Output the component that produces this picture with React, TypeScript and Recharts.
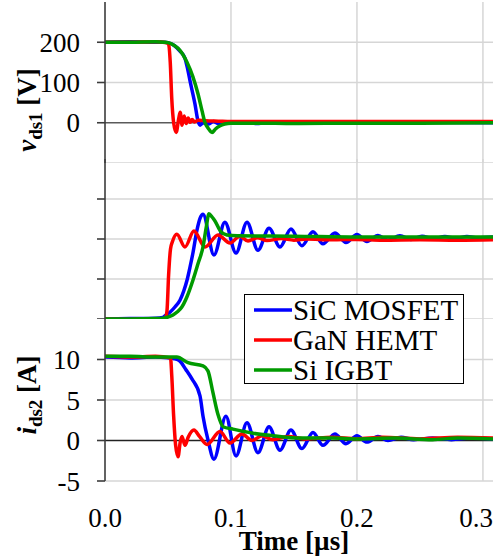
import React from 'react';
import { LineChart, Line, XAxis, YAxis, ReferenceLine, Legend } from 'recharts';

// time axis in µs
const timeTicks = [0, 0.1, 0.2, 0.3];
const vds1Ticks = [-100, 0, 100, 200];
const vds2Ticks = [0, 100, 200, 300];
const ids2Ticks = [-5, 0, 5, 10];

const seriesNames = ['SiC MOSFET', 'GaN HEMT', 'Si IGBT'];
const seriesColors = ['#0000ff', '#ff0000', '#009a00'];

// v_ds1 [V]
const sicVds1 = [
  [0, 200], [0.02, 201], [0.04, 200], [0.047, 200], [0.05, 199], [0.055, 192], [0.0595, 178], [0.0635, 160],
  [0.0655, 135], [0.0675, 104], [0.0714, 47], [0.0738, 5], [0.0755, -6], [0.078, 0],
  [0.082, -3], [0.086, 3], [0.09, -2], [0.095, 1], [0.1, -1], [0.11, 2], [0.12, -2], [0.13, 1], [0.15, 0],
  [0.18, 1], [0.2, 0], [0.25, 1], [0.308, 0],
];
const ganVds1 = [
  [0, 200], [0.02, 200], [0.04, 201], [0.049, 199], [0.0505, 195], [0.0518, 150], [0.053, 60], [0.0545, 0],
  [0.0565, -24], [0.0585, 10], [0.0597, 26], [0.0612, -6], [0.0628, 17], [0.0645, -2], [0.066, 12], [0.0676, 1],
  [0.0692, 8], [0.071, 2], [0.074, 6], [0.08, 5], [0.09, 4], [0.1, 3], [0.15, 3], [0.2, 3], [0.25, 3], [0.308, 3],
];
const igbtVds1 = [
  [0, 200], [0.02, 200], [0.04, 201], [0.047, 200], [0.05, 199], [0.055, 192], [0.0595, 180], [0.065, 151],
  [0.0698, 114], [0.0738, 72], [0.077, 30], [0.0794, 0], [0.082, -14], [0.085, -24], [0.0875, -16],
  [0.091, -8], [0.095, -3], [0.1, -1], [0.12, -1], [0.15, -2], [0.2, -1], [0.25, -1], [0.308, 0],
];

// v_ds2 [V]
const sicVds2 = [
  [0, 0], [0.02, 1], [0.04, 2], [0.046, 4], [0.0476, 8], [0.0516, 17], [0.0555, 30], [0.0595, 47], [0.0625, 70],
  [0.0651, 97], [0.0675, 130], [0.0698, 165], [0.073, 222], [0.0755, 252], [0.0778, 262], [0.0865, 160],
  [0.0952, 242], [0.104, 165], [0.1127, 242], [0.1214, 172], [0.1302, 227], [0.1389, 180], [0.1476, 225],
  [0.1563, 183], [0.1651, 218], [0.173, 188], [0.1825, 215], [0.1913, 191], [0.2, 211], [0.2079, 194],
  [0.2167, 209], [0.2246, 197], [0.2341, 208], [0.2429, 199], [0.2516, 207], [0.2603, 201], [0.2698, 206],
  [0.2786, 202], [0.2873, 206], [0.296, 203], [0.308, 205],
];
const ganVds2 = [
  [0, 0], [0.02, -1], [0.04, 0], [0.0478, 1], [0.0492, 20], [0.0505, 110], [0.052, 175], [0.0535, 193],
  [0.057, 212], [0.0635, 180], [0.0706, 220], [0.0794, 180], [0.0897, 210], [0.0992, 190], [0.107, 207],
  [0.1135, 195], [0.121, 203], [0.1286, 196], [0.14, 201], [0.15, 197], [0.16, 200], [0.18, 198], [0.2, 199],
  [0.22, 197], [0.25, 198], [0.28, 197], [0.308, 198],
];
const igbtVds2 = [
  [0, 0], [0.02, 0], [0.04, 1], [0.046, 2], [0.05, 5], [0.054, 10], [0.0575, 18], [0.061, 30], [0.065, 55],
  [0.0698, 97], [0.074, 140], [0.0778, 180], [0.0805, 232], [0.0825, 263], [0.085, 255], [0.0873, 245],
  [0.092, 218], [0.0968, 210], [0.105, 208], [0.15, 207], [0.2, 205], [0.25, 205], [0.308, 205],
];

// i_ds2 [A]
const sicIds2 = [
  [0, 10.3], [0.02, 10.2], [0.04, 10.3], [0.05, 10.2], [0.055, 10.1], [0.0595, 9.8], [0.064, 8.8], [0.069, 7.6],
  [0.0754, 5.5], [0.0778, 3.0], [0.0817, 0.1], [0.0865, -2.3], [0.096, 3.0], [0.104, -1.9], [0.1127, 2.2],
  [0.1214, -1.5], [0.1302, 1.7], [0.1389, -1.2], [0.1476, 1.3], [0.1563, -1.0], [0.1651, 1.0], [0.173, -0.6],
  [0.1825, 0.8], [0.1913, -0.4], [0.2, 0.6], [0.2079, -0.2], [0.2167, 0.5], [0.2246, 0.0], [0.235, 0.4],
  [0.245, 0.1], [0.26, 0.3], [0.275, 0.1], [0.29, 0.3], [0.308, 0.2],
];
const ganIds2 = [
  [0, 10.4], [0.02, 10.3], [0.04, 10.4], [0.052, 10.2], [0.053, 8], [0.0545, 3], [0.056, -0.5], [0.058, -2.0],
  [0.0597, -0.2], [0.0611, 0.5], [0.0635, -0.6], [0.066, 0.4], [0.0706, 1.3], [0.075, 0.5], [0.081, -0.5],
  [0.0913, 1.1], [0.0992, -0.3], [0.1087, 0.8], [0.1167, 0.0], [0.1246, 0.6], [0.133, 0.1], [0.145, 0.5],
  [0.16, 0.2], [0.18, 0.4], [0.2, 0.2], [0.22, 0.4], [0.25, 0.2], [0.28, 0.4], [0.308, 0.3],
];
const igbtIds2 = [
  [0, 10.4], [0.02, 10.4], [0.04, 10.3], [0.057, 10.3], [0.0659, 9.6], [0.0778, 9.2], [0.0817, 8.6],
  [0.0857, 5.9], [0.0897, 3.2], [0.0937, 1.7], [0.1016, 1.4], [0.1175, 0.9], [0.1333, 0.6], [0.1548, 0.3],
  [0.18, 0.3], [0.2, 0.2], [0.23, 0.3], [0.26, 0.1], [0.28, 0.3], [0.308, 0.2],
];

const W = 493;
const FONT = '"Liberation Serif", "Times New Roman", serif';
const GRID = '#d6d6d6';
const AXIS = '#3c3c3c';
const xDomain = [0, 0.308];

const toPts = (arr: number[][]) => arr.map(([t, v]) => ({ t, v }));
const blank = () => '';

// light grid, drawn as reference lines at the tick values (0 lines are drawn separately)
const gridLines = (yVals: number[]) => [
  ...timeTicks.filter((t) => t > 0).map((t) => (
    <ReferenceLine key={'gx' + t} x={t} stroke={GRID} strokeWidth={1.5} />
  )),
  ...yVals.map((v) => (
    <ReferenceLine key={'gy' + v} y={v} stroke={GRID} strokeWidth={1.5} />
  )),
];

const seriesLines = (sets: number[][][]) =>
  sets.map((s, i) => (
    <Line
      key={seriesNames[i]}
      name={seriesNames[i]}
      data={toPts(s)}
      dataKey="v"
      type="monotone"
      stroke={seriesColors[i]}
      strokeWidth={3.5}
      dot={false}
      isAnimationActive={false}
    />
  ));

const AxisTitle = ({ ax, ay, main, sub, unit }: any) => (
  <text
    transform={`translate(${ax},${ay}) rotate(-90)`}
    textAnchor="middle"
    fontFamily={FONT}
    fontWeight="bold"
    fontSize={27}
    fill="#000"
  >
    <tspan fontStyle="italic">{main}</tspan>
    <tspan fontSize={19} dy={6}>{sub}</tspan>
    <tspan dy={-6}>{' ' + unit}</tspan>
  </text>
);

const TimeTitle = ({ ax, ay }: any) => (
  <text x={ax} y={ay} textAnchor="middle" fontFamily={FONT} fontWeight="bold" fontSize={27} fill="#000">
    Time [µs]
  </text>
);

const LegendBox = () => (
  <div
    style={{
      width: 220,
      height: 90,
      boxSizing: 'border-box',
      border: '1.5px solid #000',
      background: '#fff',
      fontFamily: FONT,
      fontSize: 29,
      lineHeight: '30px',
      color: '#000',
      whiteSpace: 'nowrap',
    }}
  >
    {seriesNames.map((n, i) => (
      <div key={n} style={{ display: 'flex', alignItems: 'center', height: 30 }}>
        <svg width={48} height={30}>
          <line x1={9} x2={47} y1={15} y2={15} stroke={seriesColors[i]} strokeWidth={3.5} />
        </svg>
        <span>{n}</span>
      </div>
    ))}
  </div>
);

const tickStyle = { fontFamily: FONT, fontSize: 27, fill: '#000' };

const App: React.FC = () => {
  return (
    <div style={{ position: 'absolute', left: 0, top: 0, width: W, height: 556, background: '#fff', overflow: 'hidden' }}>
      {/* v_ds1 */}
      <div style={{ position: 'absolute', left: 0, top: 0 }}>
        <LineChart width={W} height={163} margin={{ top: 2, right: 0, bottom: 0, left: 0 }}>
          <XAxis dataKey="t" type="number" domain={xDomain} ticks={timeTicks} allowDataOverflow hide />
          <YAxis type="number" domain={[-100, 300]} ticks={vds1Ticks} width={105} allowDataOverflow
            tick={tickStyle} tickSize={8} tickMargin={17}
            axisLine={{ stroke: AXIS, strokeWidth: 1.6 }} tickLine={{ stroke: AXIS, strokeWidth: 1.6 }}
            label={<AxisTitle ax={36} ay={110} main="v" sub="ds1" unit="[V]" />} />
          {gridLines([-100, 100, 200])}
          <ReferenceLine y={0} stroke="#5a5a5a" strokeWidth={1.6} />
          {seriesLines([sicVds1, ganVds1, igbtVds1])}
        </LineChart>
      </div>

      {/* v_ds2 */}
      <div style={{ position: 'absolute', left: 0, top: 159 }}>
        <LineChart width={W} height={160} margin={{ top: 0, right: 0, bottom: 0, left: 0 }}>
          <XAxis dataKey="t" type="number" domain={xDomain} ticks={timeTicks} allowDataOverflow hide />
          <YAxis type="number" domain={[0, 400]} ticks={vds2Ticks} width={105} allowDataOverflow
            tickFormatter={blank} tickSize={8}
            axisLine={{ stroke: AXIS, strokeWidth: 1.6 }} tickLine={{ stroke: AXIS, strokeWidth: 1.6 }} />
          {gridLines(vds2Ticks)}
          {seriesLines([sicVds2, ganVds2, igbtVds2])}
        </LineChart>
      </div>

      {/* i_ds2 */}
      <div style={{ position: 'absolute', left: 0, top: 319 }}>
        <LineChart width={W} height={237} margin={{ top: 0, right: 0, bottom: 0, left: 0 }}>
          <XAxis dataKey="t" type="number" domain={xDomain} ticks={timeTicks} allowDataOverflow
            height={75} tick={tickStyle} tickFormatter={(v: number) => v.toFixed(1)}
            axisLine={false} tickLine={false} tickSize={6} tickMargin={21}
            label={<TimeTitle ax={294} ay={231} />} />
          <YAxis type="number" domain={[-5, 15]} ticks={ids2Ticks} width={105} allowDataOverflow
            tick={tickStyle} tickSize={8} tickMargin={17}
            axisLine={{ stroke: AXIS, strokeWidth: 1.6 }} tickLine={{ stroke: AXIS, strokeWidth: 1.6 }}
            label={<AxisTitle ax={36} ay={76} main="i" sub="ds2" unit="[A]" />} />
          {gridLines([-5, 5, 10])}
          <ReferenceLine y={0} stroke="#222" strokeWidth={1.6} />
          <Legend
            layout="horizontal"
            verticalAlign="middle"
            align="center"
            content={() => <LegendBox />}
            wrapperStyle={{ left: 244, top: -25, width: 220, height: 90 }}
          />
          {seriesLines([sicIds2, ganIds2, igbtIds2])}
        </LineChart>
      </div>
    </div>
  );
};

export default App;
